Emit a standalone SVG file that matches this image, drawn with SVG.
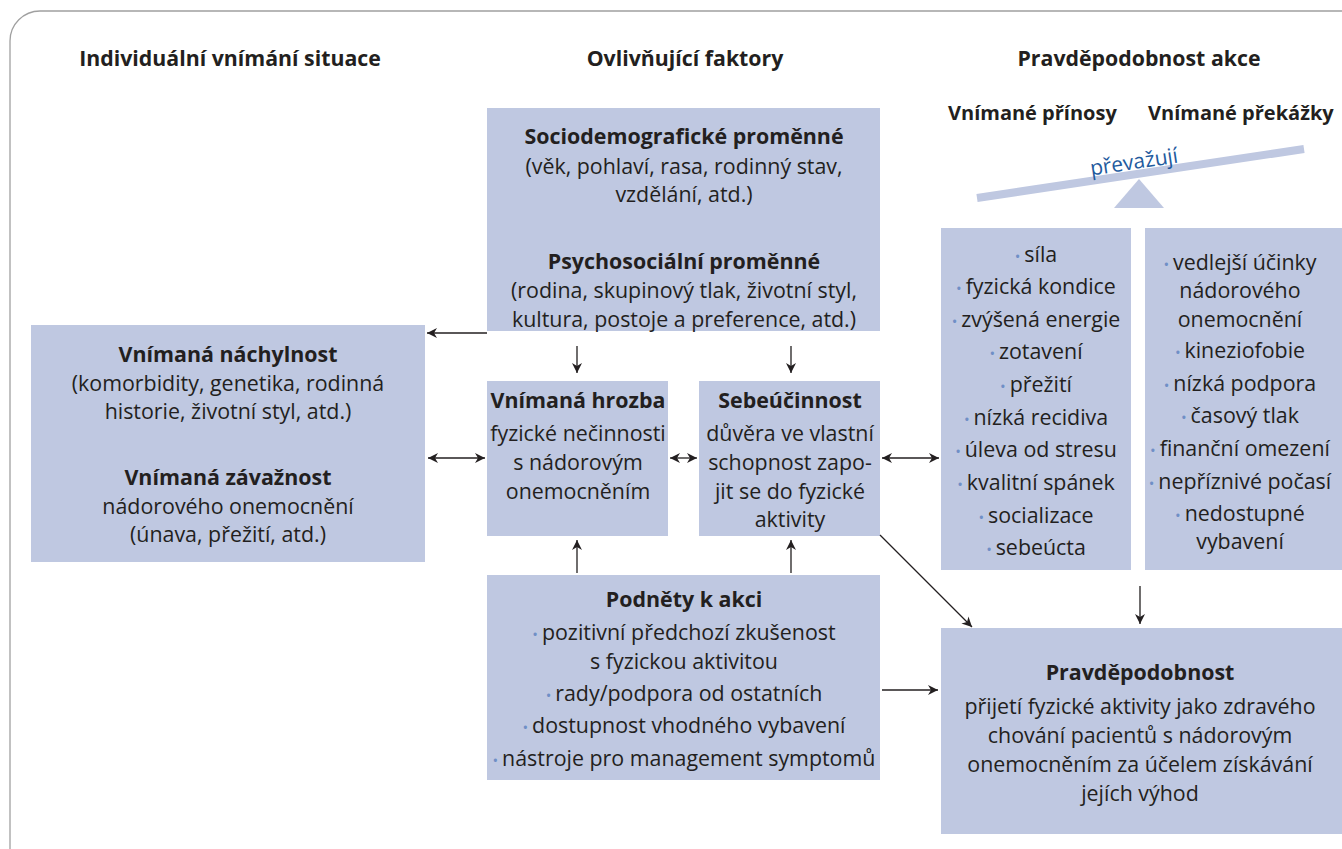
<svg xmlns="http://www.w3.org/2000/svg" width="1342" height="849" viewBox="0 0 1342 849">
<defs>
<style>
text{font-family:"Open Sans","Noto Sans",sans-serif;font-size:21.4px;fill:#231f20;text-anchor:middle}
.b{font-weight:bold}
.h{font-weight:bold;font-size:21.3px}
.s{font-weight:bold;font-size:20px;text-anchor:start}
.box{fill:#bfc8e1}
.d{fill:#6f8fc6;font-size:15px}
.c{stroke:#231f20;stroke-width:1.3;fill:none}
</style>
<marker id="ah" viewBox="0 0 10 10" refX="10" refY="5" markerWidth="10" markerHeight="10" markerUnits="userSpaceOnUse" orient="auto-start-reverse">
<path d="M0,0 L10,5 L0,10 L3,5 z" fill="#231f20"/>
</marker>
</defs>
<rect x="0" y="0" width="1342" height="849" fill="#fff"/>
<rect x="10" y="11" width="1400" height="870" rx="30" fill="none" stroke="#a0a0a0" stroke-width="1.3"/>
<g id="headers">
<text class="h" x="230" y="66">Individuální vnímání situace</text>
<text class="h" x="685" y="66">Ovlivňující faktory</text>
<text class="h" x="1139" y="66">Pravděpodobnost akce</text>
<text class="s" x="948" y="120">Vnímané přínosy</text>
<text class="s" x="1148" y="120">Vnímané překážky</text>
</g>
<g id="seesaw">
<line x1="977" y1="198" x2="1304" y2="149" stroke="#bfc8e1" stroke-width="8"/>
<polygon points="1139,179 1114,208 1164,208" fill="#bfc8e1"/>
<text x="1135" y="169" transform="rotate(-8.5 1135 169)" style="fill:#1f5b9e;font-size:21px">převažují</text>
</g>
<g id="sociodemo">
<rect class="box" x="487" y="108" width="393" height="223"/>
<text class="b" x="684" y="144">Sociodemografické proměnné</text>
<text x="684" y="174">(věk, pohlaví, rasa, rodinný stav,</text>
<text x="684" y="202">vzdělání, atd.)</text>
<text class="b" x="684" y="269">Psychosociální proměnné</text>
<text x="684" y="298">(rodina, skupinový tlak, životní styl,</text>
<text x="684" y="327">kultura, postoje a preference, atd.)</text>
</g>
<g id="nachylnost">
<rect class="box" x="31" y="325" width="394" height="237"/>
<text class="b" x="228" y="362">Vnímaná náchylnost</text>
<text x="228" y="391">(komorbidity, genetika, rodinná</text>
<text x="228" y="419">historie, životní styl, atd.)</text>
<text class="b" x="228" y="485">Vnímaná závažnost</text>
<text x="228" y="514">nádorového onemocnění</text>
<text x="228" y="542">(únava, přežití, atd.)</text>
</g>
<g id="hrozba">
<rect class="box" x="487" y="381" width="181" height="155"/>
<text class="b" x="578" y="408">Vnímaná hrozba</text>
<text x="578" y="441">fyzické nečinnosti</text>
<text x="578" y="470">s nádorovým</text>
<text x="578" y="499">onemocněním</text>
</g>
<g id="sebeucinnost">
<rect class="box" x="699" y="381" width="181" height="155"/>
<text class="b" x="790" y="408">Sebeúčinnost</text>
<text x="790" y="441">důvěra ve vlastní</text>
<text x="790" y="470">schopnost zapo-</text>
<text x="790" y="499">jit se do fyzické</text>
<text x="790" y="527">aktivity</text>
</g>
<g id="podnety">
<rect class="box" x="487" y="575" width="393" height="205"/>
<text class="b" x="684" y="607">Podněty k akci</text>
<text x="684" y="640"><tspan class="d">• </tspan>pozitivní předchozí zkušenost</text>
<text x="684" y="669">s fyzickou aktivitou</text>
<text x="684" y="701"><tspan class="d">• </tspan>rady/podpora od ostatních</text>
<text x="684" y="733"><tspan class="d">• </tspan>dostupnost vhodného vybavení</text>
<text x="684" y="766"><tspan class="d">• </tspan>nástroje pro management symptomů</text>
</g>
<g id="prinosy">
<rect class="box" x="941" y="228" width="190" height="342"/>
<text x="1036" y="262"><tspan class="d">• </tspan>síla</text>
<text x="1036" y="294"><tspan class="d">• </tspan>fyzická kondice</text>
<text x="1036" y="327"><tspan class="d">• </tspan>zvýšená energie</text>
<text x="1036" y="359"><tspan class="d">• </tspan>zotavení</text>
<text x="1036" y="392"><tspan class="d">• </tspan>přežití</text>
<text x="1036" y="425"><tspan class="d">• </tspan>nízká recidiva</text>
<text x="1036" y="457"><tspan class="d">• </tspan>úleva od stresu</text>
<text x="1036" y="490"><tspan class="d">• </tspan>kvalitní spánek</text>
<text x="1036" y="523"><tspan class="d">• </tspan>socializace</text>
<text x="1036" y="555"><tspan class="d">• </tspan>sebeúcta</text>
</g>
<g id="prekazky">
<rect class="box" x="1145" y="228" width="210" height="342"/>
<text x="1240" y="270"><tspan class="d">• </tspan>vedlejší účinky</text>
<text x="1240" y="298">nádorového</text>
<text x="1240" y="327">onemocnění</text>
<text x="1240" y="358"><tspan class="d">• </tspan>kineziofobie</text>
<text x="1240" y="391"><tspan class="d">• </tspan>nízká podpora</text>
<text x="1240" y="423"><tspan class="d">• </tspan>časový tlak</text>
<text x="1240" y="456"><tspan class="d">• </tspan>finanční omezení</text>
<text x="1240" y="489"><tspan class="d">• </tspan>nepříznivé počasí</text>
<text x="1240" y="521"><tspan class="d">• </tspan>nedostupné</text>
<text x="1240" y="549">vybavení</text>
</g>
<g id="pravdepodobnost">
<rect class="box" x="941" y="628" width="410" height="206"/>
<text class="b" x="1140" y="680">Pravděpodobnost</text>
<text x="1140" y="714">přijetí fyzické aktivity jako zdravého</text>
<text x="1140" y="743">chování pacientů s nádorovým</text>
<text x="1140" y="772">onemocněním za účelem získávání</text>
<text x="1140" y="801">jejích výhod</text>
</g>
<g id="connectors">
<line class="c" x1="487" y1="333" x2="427" y2="333" marker-end="url(#ah)"/>
<line class="c" x1="577" y1="346" x2="577" y2="373" marker-end="url(#ah)"/>
<line class="c" x1="791" y1="346" x2="791" y2="373" marker-end="url(#ah)"/>
<line class="c" x1="428" y1="458" x2="485" y2="458" marker-start="url(#ah)" marker-end="url(#ah)"/>
<line class="c" x1="670" y1="458" x2="697" y2="458" marker-start="url(#ah)" marker-end="url(#ah)"/>
<line class="c" x1="882" y1="458" x2="939" y2="458" marker-start="url(#ah)" marker-end="url(#ah)"/>
<line class="c" x1="577" y1="573" x2="577" y2="540" marker-end="url(#ah)"/>
<line class="c" x1="791" y1="573" x2="791" y2="540" marker-end="url(#ah)"/>
<line class="c" x1="880" y1="535" x2="972" y2="627" marker-end="url(#ah)"/>
<line class="c" x1="1140" y1="586" x2="1140" y2="624" marker-end="url(#ah)"/>
<line class="c" x1="882" y1="690" x2="938" y2="690" marker-end="url(#ah)"/>
</g>
</svg>
